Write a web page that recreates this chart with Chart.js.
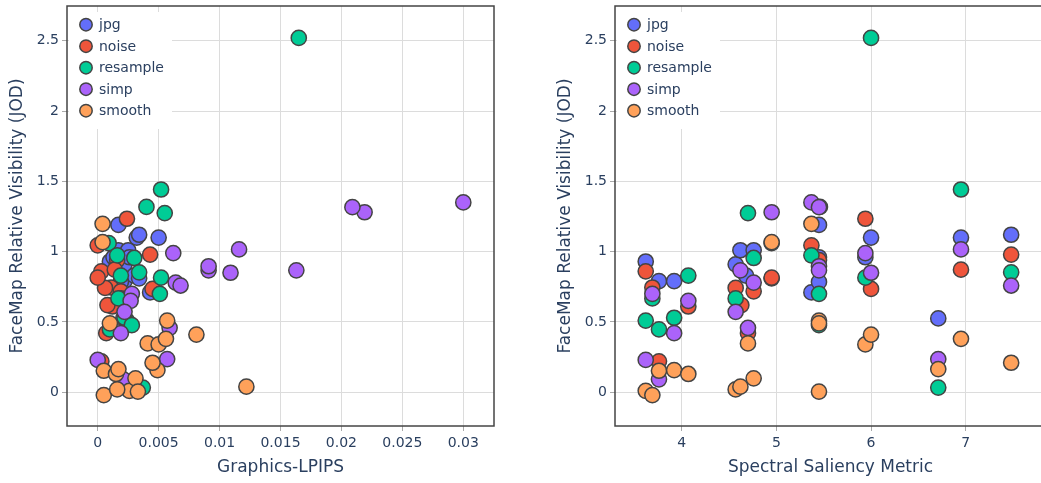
<!DOCTYPE html>
<html>
<head>
<meta charset="utf-8">
<script src="https://cdn.jsdelivr.net/npm/chart.js@4.4.1/dist/chart.umd.min.js"></script>
<style>
body { margin: 0; background: #fff; }
#wrap { position: relative; width: 1041px; height: 483px; overflow: hidden; background: #fff; }
#left { position: absolute; left: 0; top: 0; }
#right { position: absolute; left: 548px; top: 0; }
</style>
</head>
<body>
<div id="wrap">
  <canvas id="left" width="520" height="483"></canvas>
  <canvas id="right" width="498" height="483"></canvas>
</div>
<script>
// series names + colours (plotly defaults)
seriesNames = ["jpg", "noise", "resample", "simp", "smooth"]
seriesColors = ["#636efa", "#EF553B", "#00cc96", "#ab63fa", "#FFA15A"]

// y = FaceMap relative visibility (JOD), x = Graphics-LPIPS / spectral saliency metric
jpgJOD      = [0.93, 0.79, 0.79, 0.91, 1.01, 0.83, 1.01, 0.81, 0.71, 1.19, 0.96, 0.785, 0.96, 1.10, 0.525, 1.10, 1.12]
jpgSpectral = [3.62, 3.76, 3.92, 4.57, 4.62, 4.68, 4.76, 4.95, 5.37, 5.45, 5.45, 5.45, 5.94, 6.00, 6.71, 6.95, 7.48]
jpgLPIPS    = [0.0010, 0.0020, 0.0022, 0.0022, 0.0017, 0.0030, 0.0025, 0.0034, 0.0043, 0.0017, 0.0026, 0.0019, 0.0013, 0.0050, 0.0021, 0.0032, 0.0034]

noiseJOD      = [0.86, 0.745, 0.22, 0.61, 0.742, 0.62, 0.42, 0.718, 0.815, 1.045, 0.94, 1.234, 0.735, 0.872, 0.979]
noiseSpectral = [3.62, 3.69, 3.76, 4.07, 4.57, 4.63, 4.70, 4.76, 4.95, 5.37, 5.45, 5.94, 6.00, 6.95, 7.48]
noiseLPIPS    = [0.0003, 0.0011, 0.0003, 0.0012, 0.0006, 0.0008, 0.0007, 0.0019, 0.0000, 0.0000, 0.0016, 0.0024, 0.0045, 0.0014, 0.0043]

resampleJOD      = [0.51, 0.667, 0.447, 0.53, 0.83, 0.667, 1.274, 0.955, 1.06, 0.974, 1.318, 0.70, 0.477, 0.815, 2.52, 0.033, 1.442, 0.853]
resampleSpectral = [3.62, 3.69, 3.76, 3.92, 4.07, 4.57, 4.70, 4.76, 4.95, 5.37, 5.46, 5.45, 5.45, 5.94, 6.00, 6.71, 6.95, 7.48]
resampleLPIPS    = [0.0024, 0.0019, 0.0010, 0.0022, 0.0019, 0.0017, 0.0055, 0.0030, 0.0009, 0.0016, 0.0040, 0.0051, 0.0028, 0.0052, 0.0165, 0.0037, 0.0052, 0.0034]

simpJOD      = [0.23, 0.70, 0.092, 0.42, 0.65, 0.572, 0.867, 0.458, 0.78, 1.28, 1.35, 1.316, 0.896, 0.867, 0.99, 0.85, 0.236, 1.016, 0.759]
simpSpectral = [3.62, 3.69, 3.76, 3.92, 4.07, 4.57, 4.62, 4.70, 4.76, 4.95, 5.37, 5.45, 5.45, 5.45, 5.94, 6.00, 6.71, 6.95, 7.48]
simpLPIPS    = [0.0000, 0.0028, 0.0021, 0.0019, 0.0027, 0.0022, 0.0091, 0.0059, 0.0064, 0.0219, 0.0300, 0.0209, 0.0091, 0.0163, 0.0062, 0.0109, 0.0057, 0.0116, 0.0068]

smoothJOD      = [0.01, -0.02, 0.153, 0.158, 0.13, 0.02, 0.04, 0.347, 0.099, 1.068, 1.198, 0.51, 0.49, 0.005, 0.34, 0.41, 0.165, 0.38, 0.21]
smoothSpectral = [3.62, 3.69, 3.76, 3.92, 4.07, 4.57, 4.62, 4.70, 4.76, 4.95, 5.37, 5.45, 5.45, 5.45, 5.94, 6.00, 6.71, 6.95, 7.48]
smoothLPIPS    = [0.0026, 0.0005, 0.0005, 0.0049, 0.0015, 0.0016, 0.0122, 0.0041, 0.0031, 0.0004, 0.0004, 0.0057, 0.0010, 0.0033, 0.0050, 0.0081, 0.0017, 0.0056, 0.0045]

allJOD = [jpgJOD, noiseJOD, resampleJOD, simpJOD, smoothJOD]
allLPIPS = [jpgLPIPS, noiseLPIPS, resampleLPIPS, simpLPIPS, smoothLPIPS]
allSpectral = [jpgSpectral, noiseSpectral, resampleSpectral, simpSpectral, smoothSpectral]

yTicks = [0, 0.5, 1, 1.5, 2, 2.5]

textColor = "#2a3f5f"
fontFam = "'DejaVu Sans', Verdana, sans-serif"
edgeColor = "#444"

function makeDatasets(xs){
  return seriesNames.map((name, i) => ({
    label: name,
    data: xs[i].map((x, j) => ({x: x, y: allJOD[i][j]})),
    backgroundColor: seriesColors[i],
    borderColor: edgeColor,
    borderWidth: 1.5,
    pointRadius: 7.6,
    order: seriesNames.length - i   // later series on top like plotly
  }))
}

// frame round plot area + legend box inside top-left corner
frameLegend = {
  id: "frameLegend",
  beforeDatasetsDraw(chart){
    const ctx = chart.ctx, a = chart.chartArea
    ctx.save()
    ctx.fillStyle = "#fff"
    ctx.fillRect(a.left + 2, a.top + 6, 103, 117)
    ctx.lineWidth = 1.5
    ctx.strokeStyle = edgeColor
    ctx.strokeRect(a.left, a.top, a.right - a.left, a.bottom - a.top)
    ctx.restore()
  },
  afterDatasetsDraw(chart){
    const ctx = chart.ctx, a = chart.chartArea
    ctx.save()
    chart.data.datasets.forEach((ds, i) => {
      cy = a.top + 18.7 + i * 21.5
      ctx.beginPath()
      ctx.arc(a.left + 19, cy, 6.2, 0, Math.PI * 2)
      ctx.fillStyle = ds.backgroundColor
      ctx.fill()
      ctx.lineWidth = 1.5
      ctx.strokeStyle = edgeColor
      ctx.stroke()
      ctx.fillStyle = textColor
      ctx.font = "14px " + fontFam
      ctx.textBaseline = "middle"
      ctx.textAlign = "left"
      ctx.fillText(ds.label, a.left + 32, cy + 1)
    })
    ctx.restore()
  }
}

function noPad(s){
  s.paddingTop = 0
  s.paddingBottom = 0
  s.paddingLeft = 0
  s.paddingRight = 0
}

function makeChart(el, xs, xTitle, xMin, xMax, xStep, padRight){
  return new Chart(el, {
    type: "scatter",
    data: { datasets: makeDatasets(xs) },
    plugins: [frameLegend],
    options: {
      responsive: false,
      animation: false,
      events: [],
      layout: { autoPadding: false, padding: { top: 6, right: padRight, left: 0, bottom: 0 } },
      plugins: { legend: { display: false }, tooltip: { enabled: false } },
      scales: {
        x: {
          type: "linear",
          min: xMin, max: xMax,
          afterFit: s => { s.height = 57; noPad(s) },
          ticks: {
            stepSize: xStep, includeBounds: false, autoSkip: false, maxRotation: 0,
            color: textColor, font: { family: fontFam, size: 14 }, padding: 4,
            callback: v => String(+v.toFixed(4))
          },
          grid: { color: "#dcdcdc", tickColor: "#aaa", tickLength: 5 },
          border: { display: false },
          title: { display: true, text: xTitle, color: textColor,
                   font: { family: fontFam, size: 17 }, padding: { top: 0, bottom: 5 } }
        },
        y: {
          min: -0.24, max: 2.747,
          afterFit: s => { s.width = 67; noPad(s) },
          afterBuildTicks: s => { s.ticks = yTicks.map(v => ({value: v})) },
          ticks: {
            color: textColor, font: { family: fontFam, size: 14 }, padding: 3,
            callback: v => String(v)
          },
          grid: { color: "#dcdcdc", tickColor: "#aaa", tickLength: 5 },
          border: { display: false },
          title: { display: true, text: "FaceMap Relative Visibility (JOD)", color: textColor,
                   font: { family: fontFam, size: 17 }, padding: { top: 7, bottom: 0 } }
        }
      }
    }
  })
}

leftChart = makeChart(document.getElementById("left"), allLPIPS, "Graphics-LPIPS", -0.00252, 0.03252, 0.005, 26)
rightChart = makeChart(document.getElementById("right"), allSpectral, "Spectral Saliency Metric", 3.2954, 7.848, 1, 0)
</script>
</body>
</html>
